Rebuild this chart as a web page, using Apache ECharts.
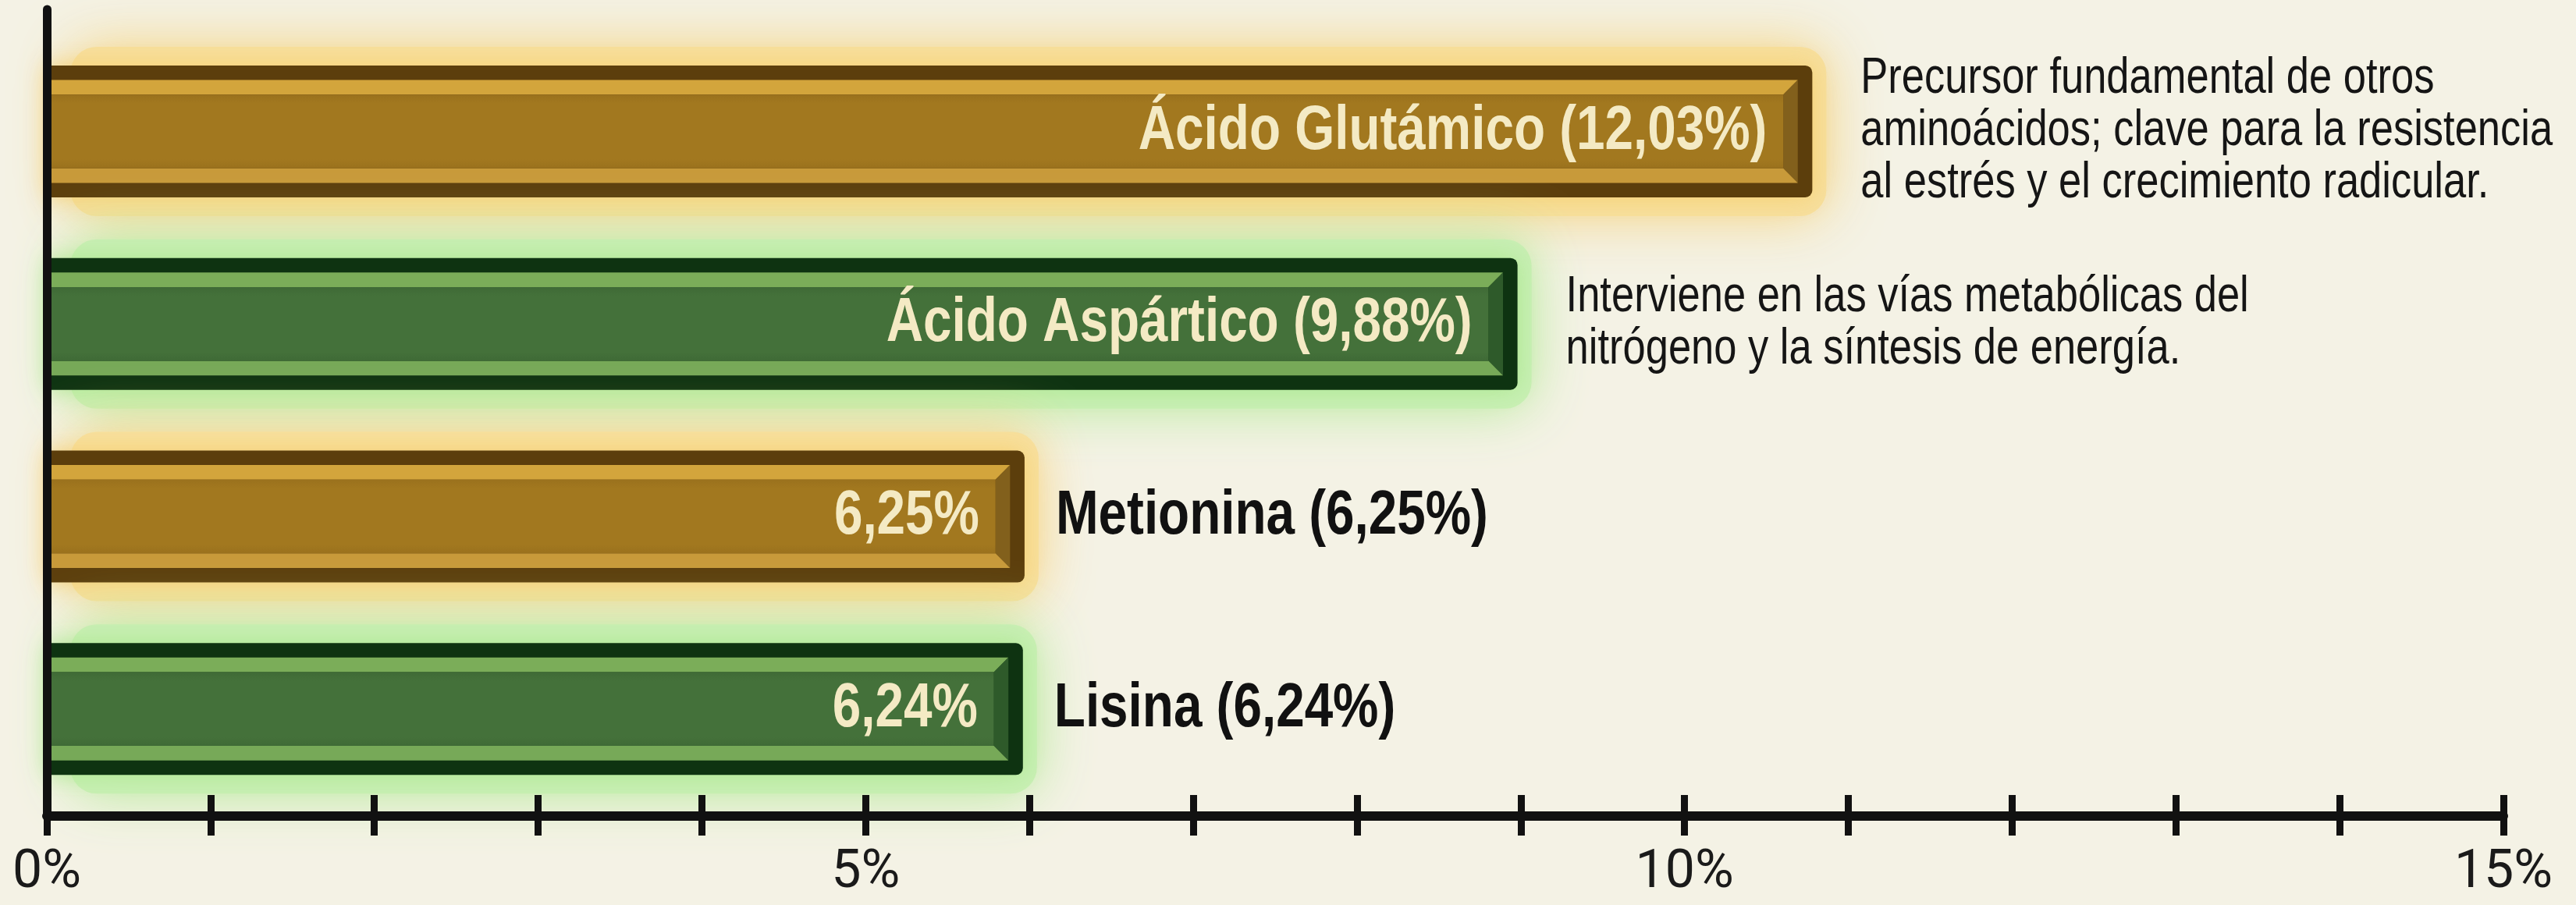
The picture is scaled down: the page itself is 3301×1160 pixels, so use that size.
<!DOCTYPE html>
<html><head><meta charset="utf-8">
<script src="https://cdn.jsdelivr.net/npm/echarts@6/dist/echarts.min.js"></script>
<style>html,body{margin:0;padding:0;background:#f4f2e5;}#c{width:3301px;height:1160px;}</style>
</head><body><div id="c"></div>
<script>
// ---- data ----
const categories = ['Ácido Glutámico', 'Ácido Aspártico', 'Metionina', 'Lisina'];
const labelPercents = ['12,03%', '9,88%', '6,25%', '6,24%'];
// bar extents as drawn against the 0–15 % axis in the picture
const barLengths = [10.78, 8.98, 5.97, 5.96];
const barTones = ['gold', 'green', 'gold', 'green'];
const nameInside = [true, true, false, false];
const notes = [
  'Precursor fundamental de otros\naminoácidos; clave para la resistencia\nal estrés y el crecimiento radicular.',
  'Interviene en las vías metabólicas del\nnitrógeno y la síntesis de energía.',
  '',
  ''
];
const axisMin = 0, axisMax = 15, axisStep = 1;
const labelledTicks = [0, 5, 10, 15];

// ---- style ----
const FONT = "'Liberation Sans', Arial, sans-serif";
const NARROW = 0.82;
const PAL = {
  gold:  { frame: '#5c3e0c', top: '#d3a53c', right: '#82601c', bottom: '#c89a3a', face: '#a2781f', face2: '#9a711d',
           glow: 'rgba(246,206,110,0.9)', glowFill: 'rgba(247,222,155,0.95)' },
  green: { frame: '#0e3311', top: '#7bad59', right: '#2e5a2a', bottom: '#77a958', face: '#44713a', face2: '#3f6a36',
           glow: 'rgba(170,232,140,0.9)', glowFill: 'rgba(198,238,178,0.95)' }
};
const BAR_H = 0.685;
const n = categories.length;

const seriesData = categories.map((c, i) => [barLengths[i], n - 1 - i, i]);

function narrowText(x, y, text, align, size, weight, color, extra) {
  return Object.assign({ type: 'text', x: x, y: y, scaleX: NARROW, scaleY: 1,
    style: Object.assign({ text: text, x: 0, y: 0, align: align, verticalAlign: 'middle',
      fontFamily: FONT, fontWeight: weight, fontSize: size, fill: color }, extra || {}) });
}

function renderBar(params, api) {
  const i = api.value(2);
  const val = api.value(0), yv = api.value(1);
  const s = api.coord([0, yv]), e = api.coord([val, yv]);
  const h = api.size([0, BAR_H])[1];
  const x0 = s[0], x1 = e[0], yc = s[1];
  const t = yc - h / 2, b = yc + h / 2;
  const p = PAL[barTones[i]];
  const fr = h * 0.11, bv = h * 0.11;
  const ix1 = x1 - fr, it = t + fr, ib = b - fr;
  const fx1 = ix1 - bv, ft = it + bv, fb = ib - bv;
  const ch = [];
  // glow halo
  ch.push({ type: 'rect', shape: { x: x0 + 30, y: t - 24, width: x1 - x0 - 12, height: h + 48, r: 34 },
    style: { fill: p.glowFill, shadowBlur: 70, shadowColor: p.glow } });
  ch.push({ type: 'rect', shape: { x: x0, y: t, width: x1 - x0, height: h, r: [0, 9, 9, 0] },
    style: { fill: p.frame, shadowBlur: 30, shadowColor: p.glow } });
  ch.push({ type: 'polygon', shape: { points: [[x0, it], [ix1, it], [fx1, ft], [x0, ft]] }, style: { fill: p.top } });
  ch.push({ type: 'polygon', shape: { points: [[ix1, it], [ix1, ib], [fx1, fb], [fx1, ft]] }, style: { fill: p.right } });
  ch.push({ type: 'polygon', shape: { points: [[x0, fb], [fx1, fb], [ix1, ib], [x0, ib]] }, style: { fill: p.bottom } });
  ch.push({ type: 'rect', shape: { x: x0, y: ft, width: fx1 - x0, height: fb - ft },
    style: { fill: { type: 'linear', x: 0, y: 0, x2: 0, y2: 1, colorStops: [
      { offset: 0, color: p.face2 }, { offset: 0.12, color: p.face },
      { offset: 0.88, color: p.face }, { offset: 1, color: p.face2 }] } } });
  const full = categories[i] + ' (' + labelPercents[i] + ')';
  const inner = nameInside[i] ? full : labelPercents[i];
  ch.push(narrowText(x1 - 58, yc, inner, 'right', 80, 'bold', '#f4eac4',
    { shadowBlur: 10, shadowColor: 'rgba(40,25,0,0.8)' }));
  if (nameInside[i]) {
    if (notes[i]) ch.push(narrowText(x1 + 62, yc, notes[i], 'left', 64, 'normal', '#151515', { lineHeight: 67 }));
  } else {
    ch.push(narrowText(x1 + 40, yc, full, 'left', 80, 'bold', '#111'));
  }
  return { type: 'group', children: ch };
}

const chart = echarts.init(document.getElementById('c'), null, { renderer: 'canvas' });
const xBase = {
  type: 'value', min: axisMin, max: axisMax, interval: axisStep, position: 'bottom', z: 10,
  splitLine: { show: false }
};
chart.setOption({
  backgroundColor: '#f4f2e5',
  animation: false,
  grid: { left: 60, right: 93, top: 12, bottom: 114, containLabel: false },
  xAxis: [
    Object.assign({}, xBase, {
      axisLine: { show: true, onZero: false, lineStyle: { color: '#111', width: 12 } },
      axisTick: { show: true, inside: false, length: 25, lineStyle: { color: '#111', width: 9 } },
      axisLabel: { show: true, margin: 40, fontFamily: 'Roboto', fontSize: 68, color: '#1a1a1a',
        formatter: v => labelledTicks.indexOf(v) >= 0 ? v + '%' : '' }
    }),
    Object.assign({}, xBase, {
      axisLine: { show: false, onZero: false },
      axisTick: { show: true, inside: true, length: 27, lineStyle: { color: '#111', width: 9 } },
      axisLabel: { show: false }
    })
  ],
  yAxis: {
    type: 'value', min: -0.556, max: 3.634, z: 10,
    axisLine: { show: true, onZero: false, lineStyle: { color: '#111', width: 11, cap: 'round' } },
    axisTick: { show: false }, axisLabel: { show: false }, splitLine: { show: false }
  },
  series: [{
    type: 'custom', renderItem: renderBar, data: seriesData,
    encode: { x: 0, y: 1 }, clip: false, z: 2
  }]
});
</script></body></html>
